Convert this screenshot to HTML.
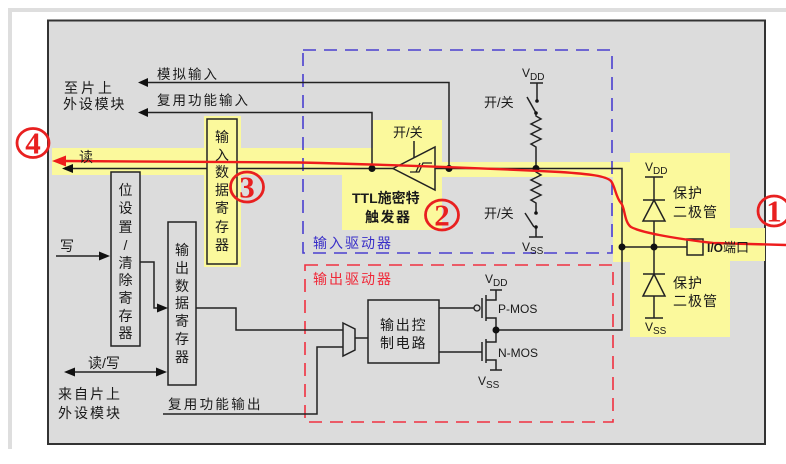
<!DOCTYPE html>
<html><head><meta charset="utf-8"><style>
html,body{margin:0;padding:0;background:#fff;}
svg{display:block;}
text{font-family:"Liberation Sans","Noto Sans CJK SC",sans-serif;fill:#1a1a1a;}
.c{font-size:14px;}
.v{font-size:14px;text-anchor:middle;}
.num{font-family:"Liberation Serif","Noto Serif CJK SC",serif;font-size:31px;font-weight:bold;fill:#e82020;text-anchor:middle;}
</style></head><body>
<svg width="786" height="464" viewBox="0 0 786 464" xmlns="http://www.w3.org/2000/svg">
<rect x="0" y="0" width="786" height="464" fill="#fff"/>
<rect x="8" y="8" width="778" height="4" fill="#dedede"/>
<rect x="8" y="8" width="4" height="441" fill="#dedede"/>
<rect x="48" y="20.5" width="717" height="423.5" fill="#dcdcdc" stroke="#333" stroke-width="2"/>

<!-- yellow highlights -->
<g fill="#fbf99c">
<rect x="52" y="148" width="390" height="27"/>
<rect x="373" y="120" width="69" height="28"/>
<rect x="342" y="175" width="100" height="55"/>
<rect x="442" y="162" width="171" height="15"/>
<rect x="613" y="162" width="17" height="100"/>
<rect x="630" y="153" width="100" height="184"/>
<rect x="730" y="228" width="35" height="33"/>
<rect x="204" y="116" width="37" height="151"/>
</g>

<!-- dashed driver boxes -->
<rect x="303" y="50" width="309" height="203" fill="none" stroke="#4a3fcf" stroke-width="1.6" stroke-dasharray="13,8"/>
<rect x="305" y="265" width="308" height="157" fill="none" stroke="#f03040" stroke-width="1.6" stroke-dasharray="13,8"/>

<g stroke="#222" stroke-width="1.5" fill="none">
<polyline points="146,82.5 449,82.5 449,168.5"/>
<polyline points="146,112.5 372,112.5 372,168.5"/>
<line x1="70" y1="168.5" x2="393" y2="168.5"/>
<polyline points="435,168.5 622,168.5 622,330 495,330"/>
<line x1="622" y1="247" x2="687" y2="247"/>
<line x1="654" y1="177" x2="654" y2="318"/>
<line x1="645" y1="177" x2="663" y2="177"/>
<line x1="645" y1="318" x2="663" y2="318"/>
<line x1="530" y1="83" x2="543" y2="83"/>
<line x1="537" y1="83" x2="537" y2="101"/>
<line x1="527" y1="97" x2="536" y2="113"/>
<polyline points="536,113 536,116 541,119 531,124 541,129 531,134 541,139 531,144 536,147 536,168.5 536,172 541,175 531,180 541,185 531,190 541,195 531,200 536,203 536,213"/>
<line x1="525" y1="213" x2="534" y2="227"/>
<line x1="536" y1="227" x2="536" y2="237"/>
<line x1="529" y1="237" x2="543" y2="237"/>
<line x1="414" y1="141" x2="414" y2="158"/>
<line x1="56" y1="256" x2="101" y2="256"/>
<polyline points="140,262 154,262 154,308 159,308"/>
<polyline points="196,308 236,308 236,330 343,330"/>
<line x1="73" y1="372" x2="158" y2="372"/>
<polyline points="163,414 317,414 317,347 343,347"/>
<line x1="355" y1="338" x2="368" y2="338"/>
<line x1="439" y1="308" x2="474" y2="308"/>
<line x1="439" y1="352" x2="482" y2="352"/>
<line x1="482" y1="298" x2="482" y2="318"/>
<line x1="486" y1="295" x2="486" y2="321"/>
<polyline points="486,300 496,300 496,290"/>
<line x1="490" y1="290" x2="502" y2="290"/>
<polyline points="486,318 496,318 496,342 486,342"/>
<line x1="482" y1="342" x2="482" y2="361"/>
<line x1="486" y1="339" x2="486" y2="363"/>
<polyline points="486,360 496,360 496,370"/>
<line x1="490" y1="370" x2="502" y2="370"/>
</g>
<circle cx="477" cy="308" r="3" fill="#dcdcdc" stroke="#222" stroke-width="1.3"/>

<g stroke="#222" stroke-width="1.5" fill="#fbf99c">
<line x1="643" y1="200" x2="665" y2="200"/>
<polygon points="654,200 643,221 665,221"/>
<line x1="643" y1="274" x2="665" y2="274"/>
<polygon points="654,274 643,296 665,296"/>
<rect x="687" y="239" width="16" height="16"/>
<polygon points="393,168.5 435,147 435,190" fill="none"/>
</g>
<path d="M410 172 H419 L423 163 H432 M416 172 L420 163" stroke="#222" stroke-width="1.3" fill="none"/>

<g stroke="#222" stroke-width="1.5">
<rect x="207" y="119" width="30" height="145" fill="#fbf99c"/>
<rect x="111" y="172" width="29" height="174" fill="#dcdcdc"/>
<rect x="168" y="222" width="28" height="163" fill="#dcdcdc"/>
<rect x="368" y="300" width="71" height="63" fill="#dcdcdc"/>
<polygon points="343,323 355,329 355,350 343,356" fill="#dcdcdc"/>
</g>

<g fill="#111">
<polygon points="138,82.5 148,78 148,87"/>
<polygon points="138,112.5 148,108 148,117"/>
<polygon points="62,168.5 73,164 73,173"/>
<polygon points="110,256 99,251.5 99,260.5"/>
<polygon points="168,308 157,303.5 157,312.5"/>
<polygon points="64,372 75,367.5 75,376.5"/>
<polygon points="167,372 156,367.5 156,376.5"/>
</g>

<g fill="#111">
<circle cx="372" cy="168.5" r="3.5"/>
<circle cx="449" cy="168.5" r="3.5"/>
<circle cx="536" cy="168.5" r="3.5"/>
<circle cx="622" cy="247" r="3.5"/>
<circle cx="654" cy="247" r="3.5"/>
<circle cx="496" cy="330" r="3.5"/>
<circle cx="537" cy="101" r="1.8"/>
<circle cx="536" cy="113" r="1.8"/>
<circle cx="536" cy="213" r="1.8"/>
<circle cx="536" cy="227" r="1.8"/>
</g>

<path d="M64 161 L300 162.5 C400 165 500 169 560 172 C590 174 606 176 611 181 C615 186 616 198 621 203 C625 207 624 222 631 227 C640 232 670 238 713 243 L786 245" fill="none" stroke="#ee1c1c" stroke-width="2.4"/>
<polygon points="52,161 66,155.5 66,166.5" fill="#ee1c1c"/>

<g fill="none" stroke="#e82020" stroke-width="2.8">
<ellipse cx="33" cy="143" rx="16" ry="14.5"/>
<ellipse cx="247" cy="187" rx="16.5" ry="15"/>
<ellipse cx="442" cy="215" rx="16.5" ry="15"/>
<ellipse cx="774" cy="211" rx="16" ry="15"/>
</g>
<text class="num" x="33" y="153.5">4</text>
<text class="num" x="247" y="197.5">3</text>
<text class="num" x="442" y="225.5">2</text>
<text class="num" x="774" y="221.5">1</text>

<text x="157" y="79" style="font-size:13.5px;letter-spacing:2px">模拟输入</text>
<text x="157" y="105" style="font-size:13.5px;letter-spacing:2px">复用功能输入</text>
<text x="64" y="93" style="font-size:14px;letter-spacing:3px">至片上</text>
<text x="63" y="109" style="font-size:14px;letter-spacing:1.8px">外设模块</text>
<text x="79" y="162" class="c">读</text>
<text x="60" y="251" class="c">写</text>
<text x="88" y="368" class="c">读/写</text>
<text x="58" y="399" style="font-size:14px;letter-spacing:2px">来自片上</text>
<text x="58" y="418" style="font-size:14px;letter-spacing:2px">外设模块</text>
<text x="168" y="409" style="font-size:13.5px;letter-spacing:2.3px">复用功能输出</text>

<text x="393" y="137" style="font-size:13px">开/关</text>
<text x="352" y="203" style="font-size:14px;font-weight:bold">TTL施密特</text>
<text x="365" y="222" style="font-size:14px;font-weight:bold;letter-spacing:1.5px">触发器</text>
<text x="313" y="248" style="font-size:14px;letter-spacing:2px;fill:#3a30c8">输入驱动器</text>
<text x="313" y="284" style="font-size:14px;letter-spacing:2px;fill:#f02838">输出驱动器</text>
<text x="380" y="330" style="font-size:14px;letter-spacing:1.8px">输出控</text>
<text x="380" y="348" style="font-size:14px;letter-spacing:1.8px">制电路</text>
<text x="484" y="107" style="font-size:13px">开/关</text>
<text x="484" y="218" style="font-size:13px">开/关</text>

<text x="522" y="77" style="font-size:12px">V<tspan style="font-size:10px" dy="3">DD</tspan></text>
<text x="522" y="251" style="font-size:12px">V<tspan style="font-size:10px" dy="3">SS</tspan></text>
<text x="485" y="283" style="font-size:12px">V<tspan style="font-size:10px" dy="3">DD</tspan></text>
<text x="478" y="385" style="font-size:12px">V<tspan style="font-size:10px" dy="3">SS</tspan></text>
<text x="645" y="171" style="font-size:12px">V<tspan style="font-size:10px" dy="3">DD</tspan></text>
<text x="645" y="331" style="font-size:12px">V<tspan style="font-size:10px" dy="3">SS</tspan></text>
<text x="498" y="313" style="font-size:12px">P-MOS</text>
<text x="498" y="357" style="font-size:12px">N-MOS</text>

<text x="673" y="198" style="font-size:14px;letter-spacing:1px">保护</text>
<text x="673" y="217" style="font-size:14px;letter-spacing:1px">二极管</text>
<text x="673" y="288" style="font-size:14px;letter-spacing:1px">保护</text>
<text x="673" y="306" style="font-size:14px;letter-spacing:1px">二极管</text>
<text x="707" y="252" style="font-size:12px"><tspan style="font-weight:bold">I/O</tspan><tspan style="font-size:13px">端口</tspan></text>

<text class="v" x="222" y="142">输</text>
<text class="v" x="222" y="160">入</text>
<text class="v" x="222" y="177">数</text>
<text class="v" x="222" y="195">据</text>
<text class="v" x="222" y="213">寄</text>
<text class="v" x="222" y="232">存</text>
<text class="v" x="222" y="250">器</text>

<text class="v" x="125.5" y="195">位</text>
<text class="v" x="125.5" y="213">设</text>
<text class="v" x="125.5" y="232">置</text>
<text class="v" x="125.5" y="250">/</text>
<text class="v" x="125.5" y="268">清</text>
<text class="v" x="125.5" y="285">除</text>
<text class="v" x="125.5" y="303">寄</text>
<text class="v" x="125.5" y="321">存</text>
<text class="v" x="125.5" y="338">器</text>

<text class="v" x="182" y="255">输</text>
<text class="v" x="182" y="273">出</text>
<text class="v" x="182" y="291">数</text>
<text class="v" x="182" y="308">据</text>
<text class="v" x="182" y="326">寄</text>
<text class="v" x="182" y="344">存</text>
<text class="v" x="182" y="362">器</text>
</svg>
</body></html>
